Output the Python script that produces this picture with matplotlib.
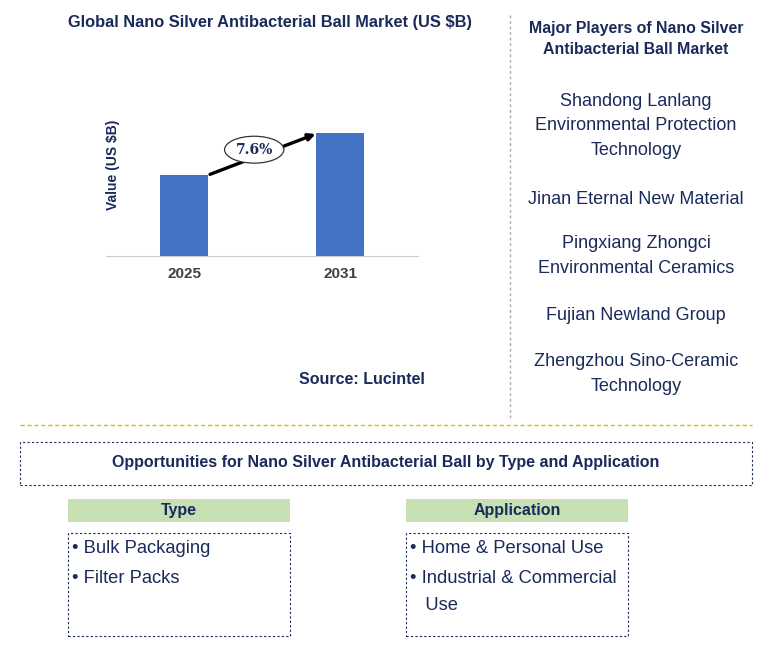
import matplotlib
matplotlib.use("Agg")
from matplotlib import pyplot as plt
from matplotlib.patches import Rectangle, Ellipse

plt.rcParams["font.family"] = "Liberation Sans"

W, H = 773, 655
years = ["2025", "2031"]
values = [1.00, 1.51]
cagr = "7.6%"
players = ["Shandong Lanlang\nEnvironmental Protection\nTechnology",
           "Jinan Eternal New Material",
           "Pingxiang Zhongci\nEnvironmental Ceramics",
           "Fujian Newland Group",
           "Zhengzhou Sino-Ceramic\nTechnology"]
player_y = [126, 199, 256, 315, 374]
types = ["Bulk Packaging", "Filter Packs"]
applications = ["Home & Personal Use", "Industrial & Commercial\nUse"]

navy = "#1a2a5a"
fig = plt.figure(figsize=(W / 100, H / 100), dpi=100)

def fx(x): return x / W
def fy(y): return 1 - y / H

# ---------------- bar chart ----------------
ax = fig.add_axes([fx(106), fy(256), fx(418 - 106), (256 - 100) / H])
ax.bar([0, 1], values, width=0.31, color="#4472c4")
ax.set_xlim(-0.5, 1.5)
ax.set_ylim(0, values[1] / (123 / 156))
ax.set_xticks([0, 1])
ax.set_xticklabels(years, fontsize=11, fontweight="bold", color="#404040")
ax.tick_params(axis="x", length=0, pad=8)
ax.set_yticks([])
for s in ["top", "right", "left"]:
    ax.spines[s].set_visible(False)
ax.spines["bottom"].set_color("#cccccc")
ax.set_ylabel("Value (US $B)", fontsize=10, fontweight="bold", color=navy)
ax.yaxis.set_label_coords(0.045, 0.585)
ax.annotate("", xy=(0.86, values[1] * 1.0), xytext=(0.15, values[0] * 0.99),
            arrowprops=dict(arrowstyle="-|>", color="black", lw=2.4))
ym = (values[0] + values[1]) / 2 * 1.04
ax.add_patch(Ellipse((0.45, ym), 0.38, 0.33,
                     facecolor="white", edgecolor="#333333", lw=0.9, zorder=3))
ax.text(0.45, ym, cagr, ha="center", va="center", family="DejaVu Serif",
        fontsize=10, fontweight="bold", color=navy, zorder=4)

fig.text(fx(270), fy(22), "Global Nano Silver Antibacterial Ball Market (US $B)",
         ha="center", va="center", fontsize=11.8, fontweight="bold", color=navy)
fig.text(fx(362), fy(379), "Source: Lucintel", ha="center", va="center",
         fontsize=11.5, fontweight="bold", color=navy)

# ---------------- players ----------------
fig.add_artist(plt.Line2D([fx(510), fx(510)], [fy(15), fy(420)],
                          color="#aaaaaa", lw=1, ls=(0, (2, 2))))
fig.text(fx(636), fy(39), "Major Players of Nano Silver\nAntibacterial Ball Market",
         ha="center", va="center", fontsize=11.4, fontweight="bold", color=navy,
         linespacing=1.55)
for name, y in zip(players, player_y):
    fig.text(fx(636), fy(y), name, ha="center", va="center", fontsize=13,
             color=navy, linespacing=1.6)

# ---------------- opportunities ----------------
fig.add_artist(plt.Line2D([fx(20), fx(752)], [fy(425), fy(425)],
                          color="#e6b800", lw=1, ls=(0, (3, 2))))
def box(x0, y0, x1, y1, **kw):
    fig.add_artist(Rectangle((fx(x0), fy(y1)), fx(x1 - x0), (y1 - y0) / H,
                             transform=fig.transFigure, **kw))

box(20, 442, 752, 485, fill=False, ec=navy, lw=0.8, ls=(0, (2, 2)))
fig.text(fx(386), fy(463), "Opportunities for Nano Silver Antibacterial Ball by Type and Application",
         ha="center", va="center", fontsize=11.5, fontweight="bold", color=navy)

for x0, title, items in [(68, "Type", types), (406, "Application", applications)]:
    box(x0, 499, x0 + 222, 522, fc="#c6e0b4", ec="none")
    fig.text(fx(x0 + 111), fy(510), title, ha="center", va="center",
             fontsize=11.5, fontweight="bold", color=navy)
    box(x0, 533, x0 + 222, 636, fill=False, ec=navy, lw=0.8, ls=(0, (2, 2)))
    y = 540
    for it in items:
        fig.text(fx(x0 + 4), fy(y), "• " + it.replace("\n", "\n   "), ha="left", va="top",
                 fontsize=13.2, color=navy, linespacing=1.8)
        y += 30 * (it.count("\n") + 1)

fig.savefig("out.png", dpi=100, facecolor="white")
